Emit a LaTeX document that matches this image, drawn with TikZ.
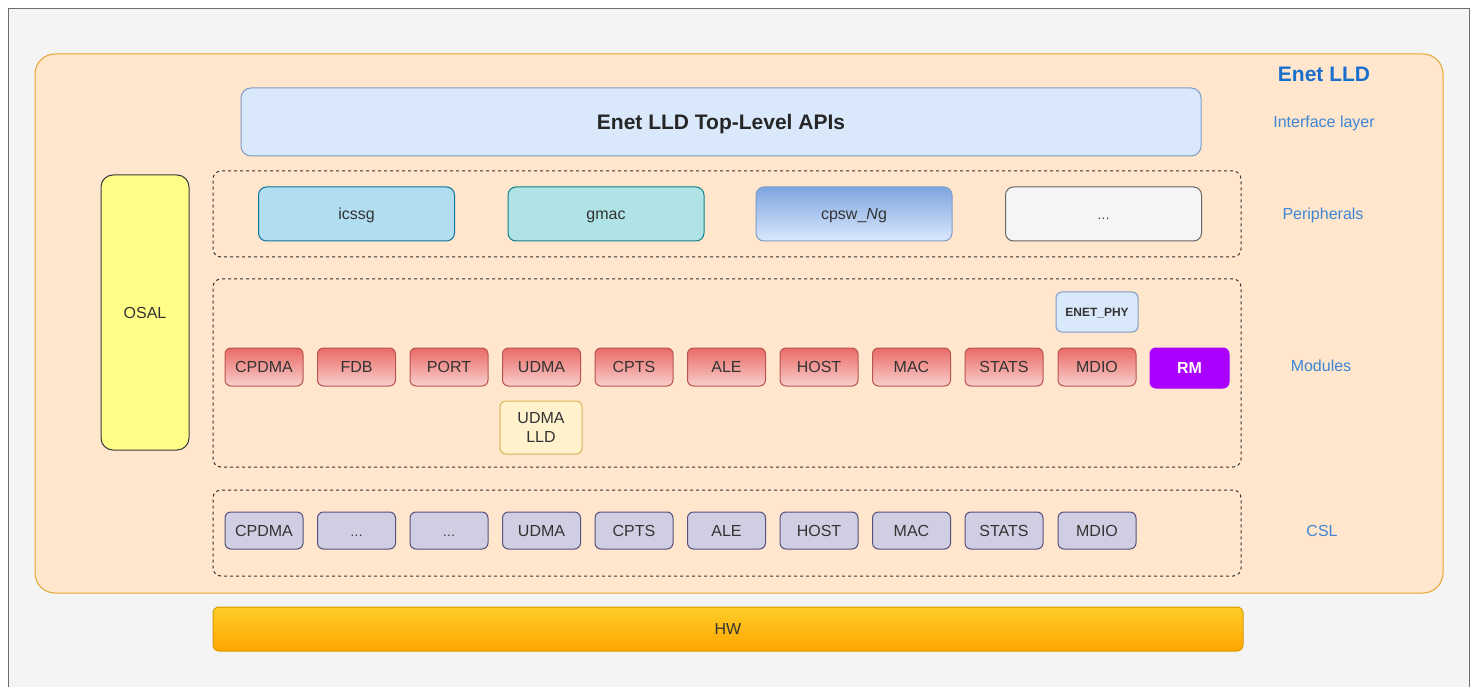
\documentclass[tikz,border=0pt]{standalone}
\usepackage{fontspec}
\setmainfont{Liberation Sans}
\definecolor{pagebg}{HTML}{F4F4F4}
\definecolor{pageline}{HTML}{6E6E6E}
\definecolor{lldfill}{HTML}{FFE6CC}
\definecolor{lldline}{HTML}{E3A72F}
\definecolor{titleblue}{HTML}{1A6ECC}
\definecolor{labelblue}{HTML}{3F86D3}
\definecolor{apifill}{HTML}{DAE8FC}
\definecolor{apiline}{HTML}{7E9CC8}
\definecolor{osalfill}{HTML}{FFFF88}
\definecolor{osalline}{HTML}{36393D}
\definecolor{icfill}{HTML}{B1DDF0}
\definecolor{icline}{HTML}{10739E}
\definecolor{gmfill}{HTML}{B0E3E6}
\definecolor{gmline}{HTML}{0E8088}
\definecolor{cptop}{HTML}{7EA6E0}
\definecolor{grfill}{HTML}{F5F5F5}
\definecolor{grline}{HTML}{666666}
\definecolor{redtop}{HTML}{EA6B66}
\definecolor{redbot}{HTML}{F8CECC}
\definecolor{redline}{HTML}{B85450}
\definecolor{rmfill}{HTML}{AA00FF}
\definecolor{yelfill}{HTML}{FFF2CC}
\definecolor{yelline}{HTML}{D6B656}
\definecolor{cslfill}{HTML}{D0CEE2}
\definecolor{cslline}{HTML}{56517E}
\definecolor{hwtop}{HTML}{FFCD28}
\definecolor{hwbot}{HTML}{FFA500}
\definecolor{hwline}{HTML}{D79B00}
\definecolor{txt}{HTML}{333333}
\tikzset{
  every node/.style={inner sep=0pt, outer sep=0pt, text=txt, font=\fontsize{16}{18}\selectfont,
    text height=11.5pt, text depth=0pt},
  bigtext/.style={font=\bfseries\fontsize{21}{24}\selectfont, text height=15pt},
  box/.style={draw, line width=1pt, rounded corners=#1, align=center},
  box/.default=6pt,
  lane/.style={draw=txt, line width=1pt, dash pattern=on 3pt off 3pt, rounded corners=8pt},
  modbox/.style={box, minimum width=78pt, minimum height=38pt, top color=redtop, bottom color=redbot, draw=redline},
  cslbox/.style={box, minimum width=78pt, minimum height=37pt, fill=cslfill, draw=cslline},
  perbox/.style={box=8pt, minimum width=196pt, minimum height=54pt},
  sidelabel/.style={text=labelblue},
  dots/.style={font=\fontsize{13}{15}\selectfont}
}
\begin{document}
\begin{tikzpicture}[x=1pt, y=-1pt]
\useasboundingbox (0,0) rectangle (1476,687);
% page frame
\fill[pagebg, draw=pageline, line width=1pt] (8,9) rectangle (1469,692);
% Enet LLD container
\node[box=20pt, fill=lldfill, draw=lldline, minimum width=1408pt, minimum height=539pt] (lld) at (739,323.5) {};
\node[bigtext, text=titleblue] (title) at (1324,74) {Enet LLD};
% layer labels
\node[sidelabel] (lInterface) at (1324,122) {Interface layer};
\node[sidelabel] (lPeriph) at (1323,214) {Peripherals};
\node[sidelabel] (lModules) at (1321,366) {Modules};
\node[sidelabel] (lCSL) at (1322,531) {CSL};
% top-level API
\node[box=10pt, fill=apifill, draw=apiline, minimum width=960pt, minimum height=68pt,
      bigtext, text=black!85] (api) at (721,122) {Enet LLD Top-Level APIs};
% OSAL
\node[box=12pt, fill=osalfill, draw=osalline, minimum width=88pt, minimum height=275pt] (osal) at (145,312.5) {OSAL};
% peripheral lane
\node[lane, minimum width=1028pt, minimum height=86pt] (perLane) at (727,214) {};
\node[perbox, fill=icfill, draw=icline] (icssg) at (356.5,214) {icssg};
\node[perbox, fill=gmfill, draw=gmline] (gmac) at (606,214) {gmac};
\node[perbox, top color=cptop, bottom color=apifill, draw=apiline] (cpsw) at (854,214) {cpsw\_\textit{N}g};
\node[perbox, fill=grfill, draw=grline, dots] (perMore) at (1103.5,214) {.\kern0.5pt.\kern0.5pt.};
% module lane
\node[lane, minimum width=1028pt, minimum height=188pt] (modLane) at (727,373) {};
\node[modbox] (mCPDMA) at (264,367) {CPDMA};
\node[modbox] (mFDB)   at (356.5,367) {FDB};
\node[modbox] (mPORT)  at (449,367) {PORT};
\node[modbox] (mUDMA)  at (541.5,367) {UDMA};
\node[modbox] (mCPTS)  at (634,367) {CPTS};
\node[modbox] (mALE)   at (726.5,367) {ALE};
\node[modbox] (mHOST)  at (819,367) {HOST};
\node[modbox] (mMAC)   at (911.5,367) {MAC};
\node[modbox] (mSTATS) at (1004,367) {STATS};
\node[modbox] (mMDIO)  at (1097,367) {MDIO};
\node[box, minimum width=79pt, minimum height=40pt, fill=rmfill, draw=rmfill, text=white,
      font=\bfseries\fontsize{16}{18}\selectfont] (mRM) at (1189.5,368) {RM};
\node[box, minimum width=82pt, minimum height=40pt, fill=apifill, draw=apiline,
      font=\bfseries\fontsize{12}{14}\selectfont, text height=8.6pt] (phy) at (1097,312) {ENET\_PHY};
\node[box, minimum width=82pt, minimum height=53pt, fill=yelfill, draw=yelline,
      text height={}, text depth={}, font=\fontsize{16}{19}\selectfont] (udmaLLD) at (541,427.5) {UDMA\\LLD};
% CSL lane
\node[lane, minimum width=1028pt, minimum height=86pt] (cslLane) at (727,533) {};
\node[cslbox] (cCPDMA) at (264,530.5) {CPDMA};
\node[cslbox, dots] (cMore1) at (356.5,530.5) {.\kern0.5pt.\kern0.5pt.};
\node[cslbox, dots] (cMore2) at (449,530.5) {.\kern0.5pt.\kern0.5pt.};
\node[cslbox] (cUDMA)  at (541.5,530.5) {UDMA};
\node[cslbox] (cCPTS)  at (634,530.5) {CPTS};
\node[cslbox] (cALE)   at (726.5,530.5) {ALE};
\node[cslbox] (cHOST)  at (819,530.5) {HOST};
\node[cslbox] (cMAC)   at (911.5,530.5) {MAC};
\node[cslbox] (cSTATS) at (1004,530.5) {STATS};
\node[cslbox] (cMDIO)  at (1097,530.5) {MDIO};
% hardware
\node[box=6pt, top color=hwtop, bottom color=hwbot, draw=hwline, minimum width=1030pt, minimum height=44pt] (hw) at (728,629) {HW};
\end{tikzpicture}
\end{document}
